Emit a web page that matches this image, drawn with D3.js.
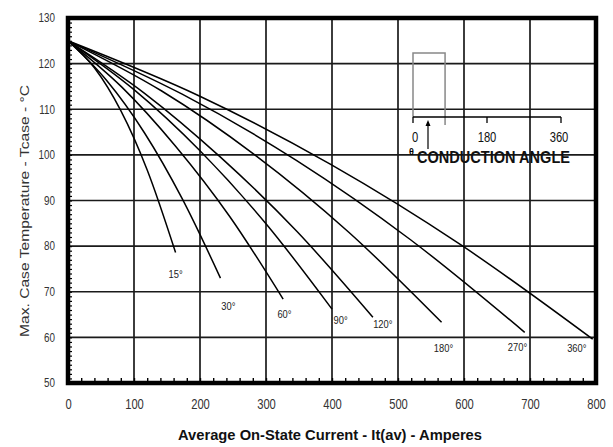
<!DOCTYPE html>
<html>
<head>
<meta charset="utf-8">
<script src="https://cdn.jsdelivr.net/npm/d3@7"></script>
<style>
  body { margin: 0; background: #fff; }
  svg text { font-family: "Liberation Sans", Arial, sans-serif; }
</style>
</head>
<body>
<script>
// tick values
const xTicks = [0, 100, 200, 300, 400, 500, 600, 700, 800];
const yTicks = [50, 60, 70, 80, 90, 100, 110, 120, 130];

// conduction angle curves, [current A, case temp C]
const angles = ["15°", "30°", "60°", "90°", "120°", "180°", "270°", "360°"];
const curve15 = [[0, 125], [40, 119.1], [80, 109.7], [120, 96.7], [163, 78.6]];
const curve30 = [[0, 125], [58, 116.4], [116, 104.8], [173, 90.4], [231, 73.0]];
const curve60 = [[0, 125], [82, 114.8], [163, 101.9], [245, 86.5], [326, 68.4]];
const curve90 = [[0, 125], [100, 114.3], [200, 100.9], [300, 84.9], [400, 66.2]];
const curve120 = [[0, 125], [116, 113.5], [231, 99.5], [347, 83.2], [462, 64.4]];
const curve180 = [[0, 125], [142, 114.0], [283, 100.0], [425, 83.1], [566, 63.3]];
const curve270 = [[0, 125], [173, 113.3], [346, 98.8], [519, 81.4], [692, 61.1]];
const curve360 = [[0, 125], [199, 112.9], [398, 97.9], [596, 80.2], [795, 59.6]];
// where each angle label sits (data units)
const labelAt = [[163, 74.0], [243, 66.8], [328, 65.1], [413, 63.7], [477, 63.0], [569, 57.7], [681, 57.9], [771, 57.7]];

// inset: conduction angle sketch
const insetTicks = [0, 180, 360];

const curves = [curve15, curve30, curve60, curve90, curve120, curve180, curve270, curve360];

const width = 613, height = 447;
const x = d3.scaleLinear().domain([0, 800]).range([68, 596]);
const y = d3.scaleLinear().domain([50, 130]).range([383, 18]);

const svg = d3.select("body").append("svg")
  .attr("width", width)
  .attr("height", height);

// the chart uses a narrow face, squeeze the text to match
function condense(sel, k) {
  sel.each(function () {
    const w = this.getComputedTextLength();
    d3.select(this).attr("textLength", w * k).attr("lengthAdjust", "spacingAndGlyphs");
  });
}

// grid
svg.append("g")
  .attr("stroke", "#1a1a1a")
  .attr("stroke-width", 1.7)
  .selectAll("line")
  .data(xTicks.slice(1, -1))
  .join("line")
  .attr("x1", d => x(d)).attr("x2", d => x(d))
  .attr("y1", y(130)).attr("y2", y(50));

svg.append("g")
  .attr("stroke", "#1a1a1a")
  .attr("stroke-width", 1.7)
  .selectAll("line")
  .data(yTicks.slice(1, -1))
  .join("line")
  .attr("y1", d => y(d)).attr("y2", d => y(d))
  .attr("x1", x(0)).attr("x2", x(800));

// minor ticks, every 1 C on the left and every 20 A at the bottom
svg.append("g")
  .attr("transform", `translate(${x(0)},0)`)
  .call(d3.axisRight(y).ticks(80).tickSize(4).tickFormat(""))
  .call(g => g.select(".domain").remove())
  .call(g => g.selectAll("line").attr("stroke", "#000").attr("stroke-width", 1.2));

svg.append("g")
  .attr("transform", `translate(0,${y(50)})`)
  .call(d3.axisTop(x).ticks(40).tickSize(5).tickFormat(""))
  .call(g => g.select(".domain").remove())
  .call(g => g.selectAll("line").attr("stroke", "#000").attr("stroke-width", 1.4));

// tick labels
svg.append("g")
  .attr("transform", `translate(${x(0)},0)`)
  .call(d3.axisLeft(y).tickValues(yTicks).tickSize(0).tickPadding(13))
  .call(g => g.select(".domain").remove())
  .call(g => g.selectAll("text")
    .attr("font-family", "Liberation Sans, Arial")
    .attr("font-size", 12).attr("fill", "#333")
    .call(condense, 0.82));

svg.append("g")
  .attr("transform", `translate(0,${y(50)})`)
  .call(d3.axisBottom(x).tickValues(xTicks).tickSize(0).tickPadding(16))
  .call(g => g.select(".domain").remove())
  .call(g => g.selectAll("text")
    .attr("font-family", "Liberation Sans, Arial")
    .attr("font-size", 14).attr("fill", "#333")
    .call(condense, 0.8));

// curves
const line = d3.line()
  .x(d => x(d[0]))
  .y(d => y(d[1]))
  .curve(d3.curveMonotoneX);

svg.append("g")
  .attr("fill", "none")
  .attr("stroke", "#000")
  .attr("stroke-width", 1.5)
  .selectAll("path")
  .data(curves)
  .join("path")
  .attr("d", line);

svg.append("g")
  .attr("font-size", 11)
  .attr("fill", "#222")
  .attr("text-anchor", "middle")
  .selectAll("text")
  .data(angles)
  .join("text")
  .attr("x", (d, i) => x(labelAt[i][0]))
  .attr("y", (d, i) => y(labelAt[i][1]) + 4)
  .text(d => d)
  .call(condense, 0.85);

// frame
svg.append("rect")
  .attr("x", x(0)).attr("y", y(130))
  .attr("width", x(800) - x(0)).attr("height", y(50) - y(130))
  .attr("fill", "none")
  .attr("stroke", "#000")
  .attr("stroke-width", 4.5);

// inset
const ix = d3.scaleLinear().domain([0, 360]).range([413, 561]);
const inset = svg.append("g");
inset.append("path")
  .attr("d", `M${ix(0)},117 V53 H${ix(78)} V125`)
  .attr("fill", "none").attr("stroke", "#888").attr("stroke-width", 1.5);
inset.append("line")
  .attr("x1", ix(0)).attr("x2", ix(360))
  .attr("y1", 117).attr("y2", 117)
  .attr("stroke", "#000").attr("stroke-width", 1.5);
inset.selectAll("line.it")
  .data(insetTicks)
  .join("line")
  .attr("x1", d => ix(d)).attr("x2", d => ix(d))
  .attr("y1", 117).attr("y2", 123)
  .attr("stroke", "#000").attr("stroke-width", 1.3);
inset.selectAll("text.il")
  .data(insetTicks)
  .join("text")
  .attr("x", d => ix(d) + (d === 0 ? 2 : d === 180 ? 0 : -2))
  .attr("y", 142)
  .attr("text-anchor", "middle")
  .attr("font-size", 14)
  .attr("fill", "#111")
  .text(d => d)
  .call(condense, 0.8);
// arrow
inset.append("line")
  .attr("x1", 428).attr("x2", 428).attr("y1", 149).attr("y2", 122)
  .attr("stroke", "#000").attr("stroke-width", 1.2);
inset.append("path")
  .attr("d", "M428,120 L425.5,126 L430.5,126 Z")
  .attr("fill", "#000");
inset.append("text")
  .attr("x", 409).attr("y", 155)
  .attr("font-size", 9).attr("font-weight", "bold")
  .text("θ");
inset.append("text")
  .attr("x", 417).attr("y", 163)
  .attr("font-size", 16).attr("font-weight", "bold")
  .attr("fill", "#111")
  .attr("textLength", 153).attr("lengthAdjust", "spacingAndGlyphs")
  .text("CONDUCTION ANGLE");

// axis titles
svg.append("text")
  .attr("x", 330).attr("y", 440)
  .attr("text-anchor", "middle")
  .attr("font-size", 15).attr("font-weight", "bold")
  .attr("fill", "#111")
  .attr("textLength", 304).attr("lengthAdjust", "spacingAndGlyphs")
  .text("Average On-State Current - It(av) - Amperes");

svg.append("text")
  .attr("transform", "translate(29,211) rotate(-90)")
  .attr("text-anchor", "middle")
  .attr("font-size", 13)
  .attr("fill", "#333")
  .attr("textLength", 252).attr("lengthAdjust", "spacingAndGlyphs")
  .text("Max. Case Temperature - Tcase - °C");
</script>
</body>
</html>
